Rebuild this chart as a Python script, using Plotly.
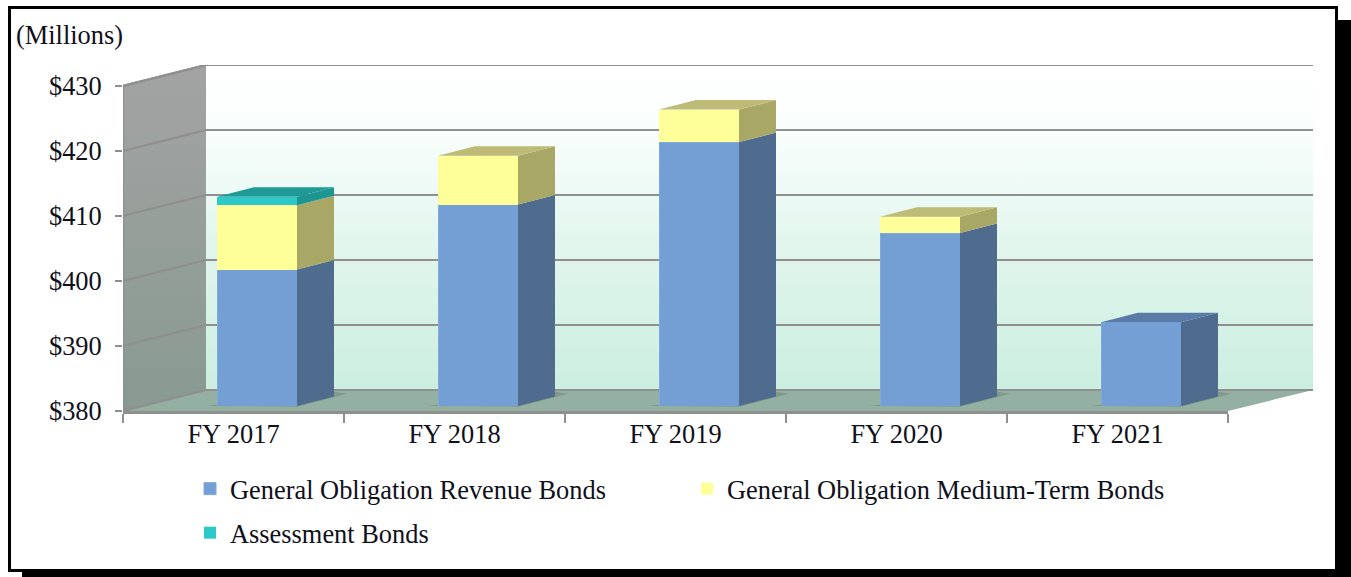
import plotly.graph_objects as go

WIDTH = 1351
HEIGHT = 577

"""Data ($ millions)"""
years = ["FY 2017", "FY 2018", "FY 2019", "FY 2020", "FY 2021"]
revenue_bonds = [401, 411, 420.6, 406.6, 392.9]
medium_term_bonds = [9.9, 7.5, 5, 2.5, 0]
assessment_bonds = [1.3, 0, 0, 0, 0]
y_ticks = [380, 390, 400, 410, 420, 430]

"""Layout of the fake 3D box, pixels"""
left, front_right, back_left, back_right = 123, 1228, 206, 1313
top, bottom = 65, 411
px_per_unit = 6.5
slot = (front_right - left) / len(years)
wall_dx = (back_right - front_right) / slot
side_dx = (back_left - left) / slot
wall_dy = 21 / px_per_unit
bar_shift_px = (23.5, 5)
bar_width = 80 / slot
bar_dx = 37 / slot
bar_dy = 9.5 / px_per_unit
plot_w = back_right - left
plot_h = bottom - top

grid_color = "#8f8f8f"
text_color = "#10101a"
font = "Liberation Serif"
font_size = 26.4

fig = go.Figure()


def poly(xs, ys, color, axes=("x", "y"), gradient=None):
    kw = dict(fillgradient=gradient) if gradient else dict(fillcolor=color)
    fig.add_trace(
        go.Scatter(
            x=xs + xs[:1], y=ys + ys[:1], mode="lines", fill="toself",
            line=dict(width=0), xaxis=axes[0], yaxis=axes[1],
            showlegend=False, hoverinfo="skip", **kw,
        )
    )


def line(xs, ys):
    fig.add_trace(
        go.Scatter(
            x=xs, y=ys, mode="lines", line=dict(color=grid_color, width=2.2),
            showlegend=False, hoverinfo="skip",
        )
    )


x0, x1 = -0.5, len(years) - 0.5
lo, hi = y_ticks[0], y_ticks[-1]

"""Back wall, side wall, floor"""
poly(
    [x0 + side_dx, x1 + wall_dx, x1 + wall_dx, x0 + side_dx],
    [lo + wall_dy, lo + wall_dy, hi + wall_dy, hi + wall_dy],
    None,
    gradient=dict(
        type="vertical",
        colorscale=[[0, "#cbeee0"], [0.45, "#e2f6ee"], [0.8, "#f9fefc"], [1, "#ffffff"]],
    ),
)
poly(
    [x0, x0 + side_dx, x0 + side_dx, x0],
    [lo, lo + wall_dy, hi + wall_dy, hi],
    None,
    gradient=dict(type="vertical", colorscale=[[0, "#889a91"], [1, "#a3a3a3"]]),
)
poly(
    [x0, x1, x1 + wall_dx, x0 + side_dx],
    [lo, lo, lo + wall_dy, lo + wall_dy],
    "#94b0a2",
)
for t in y_ticks:
    line([x0, x0 + side_dx, x1 + wall_dx], [t, t + wall_dy, t + wall_dy])
line([x0, x0 + side_dx], [hi, hi + wall_dy])
line([x0, x0], [lo, hi])

"""Shadows on the floor under each bar"""
shift_x = bar_shift_px[0] / slot
shift_y = bar_shift_px[1] / px_per_unit
for i in range(len(years)):
    c = i + shift_x
    poly(
        [c - bar_width / 2 - 0.05, c + bar_width / 2,
         c + bar_width / 2 + bar_dx + 0.06, c + bar_width / 2 + bar_dx],
        [lo + shift_y, lo + shift_y - 0.1, lo + shift_y + 1.9, lo + shift_y + 2.2],
        "#7d9a8c",
    )

"""Bars: front faces on their own axes, shifted into the box"""
series = [
    ("General Obligation Revenue Bonds", revenue_bonds, "#739fd5", "#4f6b8d", "#5a7ba8", "legend", 1),
    ("General Obligation Medium-Term Bonds", medium_term_bonds, "#ffff99", "#a9a766", "#bdbb75", "legend", 0),
    ("Assessment Bonds", assessment_bonds, "#2dc9c8", "#1c9593", "#1f9a96", "legend2", 0),
]
for name, values, front, side, lid, legend, edge in series:
    fig.add_trace(
        go.Bar(
            name=name, x=list(range(len(years))), y=values, width=bar_width,
            marker=dict(color=front, line=dict(width=edge, color="#7fa9dc")),
            xaxis="x3", yaxis="y2", hoverinfo="skip", legend=legend,
        )
    )

"""Side and top faces, from the same values"""
for i in range(len(years)):
    xl = i - bar_width / 2
    xr = i + bar_width / 2
    total = 0
    top_color = None
    for name, values, front, side, lid, legend, edge in series:
        v = values[i]
        if v <= 0:
            continue
        low = max(total, lo)
        total += v
        poly(
            [xr, xr + bar_dx, xr + bar_dx, xr],
            [low, low + bar_dy, total + bar_dy, total],
            side, axes=("x3", "y2"),
        )
        top_color = lid
    poly(
        [xl, xr, xr + bar_dx, xl + bar_dx],
        [total, total, total + bar_dy, total + bar_dy],
        top_color, axes=("x3", "y2"),
    )

"""Category axis carries the labels, ticks sit on the slot boundaries"""
fig.add_trace(
    go.Scatter(
        x=years, y=[lo] * len(years), mode="markers", marker=dict(opacity=0),
        xaxis="x2", yaxis="y", showlegend=False, hoverinfo="skip",
    )
)


def rect(xa, ya, xb, yb):
    return dict(
        type="rect", xref="paper", yref="paper", layer="below",
        x0=(xa - left) / plot_w, x1=(xb - left) / plot_w,
        y0=(bottom - yb) / plot_h, y1=(bottom - ya) / plot_h,
        fillcolor="black", line=dict(width=0),
    )


frame = [
    rect(8, 6, 1338, 9),
    rect(8, 6, 11, 572),
    rect(8, 569, 1338, 572),
    rect(1335, 6, 1338, 572),
    rect(1335, 20, 1351, 577),
    rect(22, 569, 1351, 577),
]

legend_style = dict(
    orientation="h", xanchor="left", yanchor="top", entrywidth=452,
    entrywidthmode="pixels", traceorder="normal", bgcolor="rgba(0,0,0,0)",
    font=dict(family=font, size=font_size, color=text_color),
    x=(190 - left) / plot_w,
)

fig.update_layout(
    width=WIDTH,
    height=HEIGHT,
    autosize=False,
    margin=dict(l=left, r=WIDTH - back_right, t=top, b=HEIGHT - bottom, pad=0),
    paper_bgcolor="white",
    plot_bgcolor="rgba(0,0,0,0)",
    barmode="stack",
    font=dict(family=font, size=font_size, color=text_color),
    shapes=frame,
    xaxis=dict(
        range=[x0, x1 + wall_dx], domain=[0, 1], visible=False, fixedrange=True,
    ),
    yaxis=dict(
        range=[lo, hi + wall_dy], domain=[0, 1], tickvals=y_ticks,
        ticktext=[f"${t}" for t in y_ticks], ticks="outside", ticklen=7,
        tickwidth=2, tickcolor=grid_color, showgrid=False, zeroline=False,
        showline=False, ticklabelstandoff=8, fixedrange=True,
    ),
    xaxis2=dict(
        type="category", categoryorder="array", categoryarray=years,
        range=[x0, x1], domain=[0, (front_right - left) / plot_w], anchor="y",
        tickson="boundaries", ticks="outside", ticklen=9, tickwidth=2,
        tickcolor=grid_color, showline=True, linecolor=grid_color, linewidth=3,
        showgrid=False, zeroline=False, ticklabelstandoff=-3, fixedrange=True,
    ),
    xaxis3=dict(
        range=[x0, x0 + (plot_w - bar_shift_px[0]) / slot],
        domain=[bar_shift_px[0] / plot_w, 1], anchor="y2", visible=False,
        fixedrange=True,
    ),
    yaxis2=dict(
        range=[lo, lo + (plot_h - bar_shift_px[1]) / px_per_unit],
        domain=[bar_shift_px[1] / plot_h, 1], anchor="x3", visible=False,
        fixedrange=True,
    ),
    legend=dict(y=(bottom - 465) / plot_h, **legend_style),
    legend2=dict(y=(bottom - 509) / plot_h, **legend_style),
    annotations=[
        dict(
            text="(Millions)", xref="paper", yref="paper", showarrow=False,
            x=(14 - left) / plot_w, xanchor="left",
            y=(bottom - 35) / plot_h, yanchor="middle",
        )
    ],
)

fig.write_html(
    "out.html",
    config=dict(displayModeBar=False),
    post_script="document.body.style.margin='0';document.body.style.overflow='hidden';",
)
